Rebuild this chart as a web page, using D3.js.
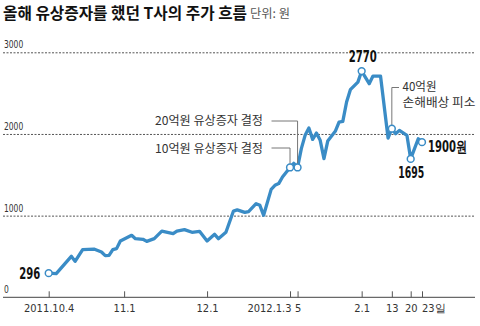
<!DOCTYPE html>
<html><head><meta charset="utf-8">
<script src="https://cdn.jsdelivr.net/npm/d3@7"></script>
<style>
body{margin:0;background:#fff}
svg{display:block;font-family:"Noto Sans CJK KR","Noto Sans",sans-serif}
.num{font-family:"Liberation Sans Narrow","DejaVu Sans Condensed","Liberation Sans",Arial,sans-serif}
</style></head><body><svg id="chart" width="480" height="326"></svg>
<script>
// Trading-day index (0 = 2011.10.4) and closing price in won
const tradeDay = [0,2,6,7,9,12,14,15,16,17,18,19,22,23,25,26,28,30,33,34,36,38,40,42,44,45,47,49,50,52,53,55,56,57,59,60,61,62,64,65,66,67,68,69,70,71,72,73,74,76,77,78,79,80,82,83,85,86,88,90,91,92,93,95,96,98,99];
const price = [296,290,502,440,584,591,555,510,514,584,596,689,759,718,710,685,718,811,780,811,829,796,808,689,771,718,796,1056,1070,1040,1050,1147,1126,1004,1322,1371,1392,1473,1590,1640,1590,1820,1983,2072,1934,2011,1922,1698,1913,2032,2146,2154,2391,2542,2635,2770,2616,2709,2709,1950,2065,2003,2044,1983,1695,1942,1900];

// Date axis: tick positions in trading days and their labels
const tickDays = [0,20,42,64,66,83,91,96,99];
const tickLabels = ["2011.10.4","11.1","12.1","2012.1.3","5","2.1","13","20","23일"];

// Price axis
const yTicks = [0,1000,2000,3000];
const yTickLabels = ["0","1000","2000","3000"];

// Highlighted days
const markedDays = [0,64,66,83,91,96,99];

const title = "올해 유상증자를 했던 T사의 주가 흐름";
const unit = "단위: 원";

const W = 480, H = 326;
const left = 3, right = 475;
const svg = d3.select("#chart");

const x = d3.scaleLinear().domain([0, 99]).range([48.7, 422]);
const y = d3.scaleLinear().domain([0, 3000]).range([297.3, 52.3]);

const data = tradeDay.map((d, i) => ({d, v: price[i]}));
const byDay = new Map(data.map(p => [p.d, p.v]));

// Title
svg.append("text").attr("x", 3).attr("y", 18.5)
  .attr("font-size", 16).attr("font-weight", 700).attr("fill", "#111")
  .attr("textLength", 244).attr("lengthAdjust", "spacingAndGlyphs")
  .text(title);
svg.append("text").attr("x", 250).attr("y", 18)
  .attr("font-size", 12).attr("fill", "#555")
  .attr("textLength", 40).attr("lengthAdjust", "spacingAndGlyphs")
  .text(unit);

// Gridlines
const grid = svg.append("g").attr("transform", `translate(${left},0)`)
  .call(d3.axisRight(y).tickValues(yTicks.filter(t => t > 0)).tickSize(right - left).tickFormat(""));
grid.select(".domain").remove();
grid.selectAll("line").attr("stroke", "#555").attr("stroke-width", 1).attr("stroke-dasharray", "2,1.5");

// Price labels above gridlines
svg.append("g").selectAll("text").data(yTicks).join("text")
  .attr("class", "num")
  .attr("x", 4).attr("y", d => y(d) - 4)
  .attr("font-size", 11).attr("fill", "#333")
  .attr("textLength", (d, i) => yTickLabels[i].length * 4.8)
  .attr("lengthAdjust", "spacingAndGlyphs")
  .text((d, i) => yTickLabels[i]);

// Baseline
svg.append("line").attr("x1", left).attr("x2", right)
  .attr("y1", y(0)).attr("y2", y(0))
  .attr("stroke", "#444").attr("stroke-width", 1);

// Date axis
const xa = svg.append("g").attr("transform", `translate(0,${y(0)})`)
  .call(d3.axisBottom(x).tickValues(tickDays).tickSize(-6).tickFormat((d, i) => tickLabels[i]));
xa.select(".domain").remove();
xa.selectAll("line").attr("stroke", "#555");
xa.selectAll("text")
  .attr("class", "num")
  .attr("y", 14.5).attr("dy", 0)
  .attr("font-size", 11).attr("fill", "#333")
  .attr("font-family", null)
  .attr("text-anchor", (d, i) => i === 3 ? "end" : i === 8 ? "start" : "middle")
  .attr("dx", (d, i) => i === 3 ? 1 : i === 8 ? -0.5 : 0);

// Price line
const line = d3.line().x(p => x(p.d)).y(p => y(p.v));
svg.append("path").datum(data)
  .attr("d", line).attr("fill", "none")
  .attr("stroke", "#3a8cc6").attr("stroke-width", 3.3)
  .attr("stroke-linejoin", "round").attr("stroke-linecap", "round");

// Leader lines for annotations
const leader = svg.append("g").attr("fill", "none").attr("stroke", "#777").attr("stroke-width", 1);
const notes = [
  {day: 66, ly: 121, lx: 271.5, lines: ["20억원 유상증자 결정"], tx: 263, ty: 125, anchor: "end", tw: [108]},
  {day: 64, ly: 148, lx: 271.5, lines: ["10억원 유상증자 결정"], tx: 263, ty: 152.5, anchor: "end", tw: [108]},
  {day: 91, ly: 87.5, lx: 399, lines: ["40억원", "손해배상 피소"], tx: 402.5, ty: 91, anchor: "start", tw: [34, 73]}
];
notes.forEach(n => {
  const px = x(n.day), py = y(byDay.get(n.day)) - 3.5;
  leader.append("path").attr("d", `M${n.lx},${n.ly}H${px}V${py}`);
  n.lines.forEach((t, k) => {
    svg.append("text").attr("x", n.tx).attr("y", n.ty + k * 16)
      .attr("text-anchor", n.anchor).attr("font-size", 12).attr("fill", "#333")
      .attr("textLength", n.tw[k]).attr("lengthAdjust", "spacingAndGlyphs")
      .text(t);
  });
});

// Marked points
svg.append("g").selectAll("circle").data(markedDays).join("circle")
  .attr("cx", d => x(d)).attr("cy", d => y(byDay.get(d)))
  .attr("r", 3.4).attr("fill", "#fff")
  .attr("stroke", "#3a8cc6").attr("stroke-width", 1.5);

// Value labels
const valueLabels = [
  {day: 0, text: "296", dx: -8.5, dy: 6, anchor: "end", w: 21},
  {day: 83, text: "2770", dx: 1, dy: -9, anchor: "middle", w: 28},
  {day: 96, text: "1695", dx: 0.5, dy: 19, anchor: "middle", w: 26},
  {day: 99, text: "1900원", dx: 6, dy: 9.5, anchor: "start", w: 39}
];
svg.append("g").selectAll("text").data(valueLabels).join("text")
  .attr("class", "num")
  .attr("x", d => x(d.day) + d.dx).attr("y", d => y(byDay.get(d.day)) + d.dy)
  .attr("text-anchor", d => d.anchor)
  .attr("font-size", 15).attr("font-weight", 700).attr("fill", "#111")
  .attr("textLength", d => d.w).attr("lengthAdjust", "spacingAndGlyphs")
  .text(d => d.text);
</script></body></html>
